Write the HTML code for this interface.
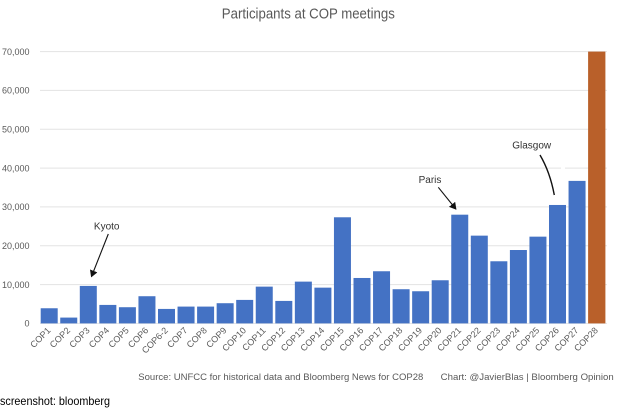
<!DOCTYPE html>
<html><head><meta charset="utf-8"><style>
html,body{margin:0;padding:0;background:#fff;}
svg{display:block;}
text{font-family:"Liberation Sans",Arial,sans-serif;}
</style></head><body>
<svg width="620" height="411" viewBox="0 0 620 411" xmlns="http://www.w3.org/2000/svg">
<rect width="620" height="411" fill="#fff"/>
<text x="308.3" y="18.5" font-size="15" fill="#595959" text-anchor="middle" textLength="173" lengthAdjust="spacingAndGlyphs">Participants at COP meetings</text>
<g stroke="#e3e3e3" stroke-width="1">
<line x1="40" y1="323.4" x2="607" y2="323.4"/>
<line x1="40" y1="284.57" x2="607" y2="284.57"/>
<line x1="40" y1="245.74" x2="607" y2="245.74"/>
<line x1="40" y1="206.91" x2="607" y2="206.91"/>
<line x1="40" y1="168.08" x2="607" y2="168.08"/>
<line x1="40" y1="129.25" x2="607" y2="129.25"/>
<line x1="40" y1="90.42" x2="607" y2="90.42"/>
<line x1="40" y1="51.59" x2="607" y2="51.59"/>
</g>
<rect x="561" y="166" width="4" height="4" fill="#fff"/>
<g font-size="9" fill="#595959" text-anchor="end">
<text x="29.5" y="326.6">0</text>
<text x="29.5" y="287.8">10,000</text>
<text x="29.5" y="248.9">20,000</text>
<text x="29.5" y="210.1">30,000</text>
<text x="29.5" y="171.3">40,000</text>
<text x="29.5" y="132.5">50,000</text>
<text x="29.5" y="93.6">60,000</text>
<text x="29.5" y="54.8">70,000</text>
</g>
<g fill="#4472c4">
<rect x="40.7" y="308.26" width="17" height="15.14"/>
<rect x="60.25" y="317.58" width="17" height="5.82"/>
<rect x="79.8" y="285.93" width="17" height="37.47"/>
<rect x="99.35" y="304.92" width="17" height="18.48"/>
<rect x="118.9" y="307.21" width="17" height="16.19"/>
<rect x="138.45" y="296.22" width="17" height="27.18"/>
<rect x="158.0" y="308.92" width="17" height="14.48"/>
<rect x="177.55" y="306.59" width="17" height="16.81"/>
<rect x="197.1" y="306.59" width="17" height="16.81"/>
<rect x="216.65" y="303.21" width="17" height="20.19"/>
<rect x="236.2" y="299.91" width="17" height="23.49"/>
<rect x="255.75" y="286.63" width="17" height="36.77"/>
<rect x="275.3" y="300.92" width="17" height="22.48"/>
<rect x="294.85" y="281.62" width="17" height="41.78"/>
<rect x="314.4" y="287.64" width="17" height="35.76"/>
<rect x="333.95" y="217.28" width="17" height="106.12"/>
<rect x="353.5" y="277.97" width="17" height="45.43"/>
<rect x="373.05" y="271.25" width="17" height="52.15"/>
<rect x="392.6" y="289.23" width="17" height="34.17"/>
<rect x="412.15" y="291.25" width="17" height="32.15"/>
<rect x="431.7" y="280.26" width="17" height="43.14"/>
<rect x="451.25" y="214.68" width="17" height="108.72"/>
<rect x="470.8" y="235.64" width="17" height="87.76"/>
<rect x="490.35" y="261.27" width="17" height="62.13"/>
<rect x="509.9" y="250.01" width="17" height="73.39"/>
<rect x="529.45" y="236.65" width="17" height="86.75"/>
<rect x="549.0" y="204.97" width="17" height="118.43"/>
<rect x="568.55" y="180.89" width="17" height="142.51"/>
</g>
<rect x="588.1" y="51.59" width="17.3" height="271.81" fill="#b9602a"/>
<g font-size="9" fill="#595959" text-anchor="end">
<text transform="translate(51.2,331) rotate(-45)">COP1</text>
<text transform="translate(70.75,331) rotate(-45)">COP2</text>
<text transform="translate(90.3,331) rotate(-45)">COP3</text>
<text transform="translate(109.85,331) rotate(-45)">COP4</text>
<text transform="translate(129.4,331) rotate(-45)">COP5</text>
<text transform="translate(148.95,331) rotate(-45)">COP6</text>
<text transform="translate(168.5,331) rotate(-45)">COP6-2</text>
<text transform="translate(188.05,331) rotate(-45)">COP7</text>
<text transform="translate(207.6,331) rotate(-45)">COP8</text>
<text transform="translate(227.15,331) rotate(-45)">COP9</text>
<text transform="translate(246.7,331) rotate(-45)">COP10</text>
<text transform="translate(266.25,331) rotate(-45)">COP11</text>
<text transform="translate(285.8,331) rotate(-45)">COP12</text>
<text transform="translate(305.35,331) rotate(-45)">COP13</text>
<text transform="translate(324.9,331) rotate(-45)">COP14</text>
<text transform="translate(344.45,331) rotate(-45)">COP15</text>
<text transform="translate(364.0,331) rotate(-45)">COP16</text>
<text transform="translate(383.55,331) rotate(-45)">COP17</text>
<text transform="translate(403.1,331) rotate(-45)">COP18</text>
<text transform="translate(422.65,331) rotate(-45)">COP19</text>
<text transform="translate(442.2,331) rotate(-45)">COP20</text>
<text transform="translate(461.75,331) rotate(-45)">COP21</text>
<text transform="translate(481.3,331) rotate(-45)">COP22</text>
<text transform="translate(500.85,331) rotate(-45)">COP23</text>
<text transform="translate(520.4,331) rotate(-45)">COP24</text>
<text transform="translate(539.95,331) rotate(-45)">COP25</text>
<text transform="translate(559.5,331) rotate(-45)">COP26</text>
<text transform="translate(579.05,331) rotate(-45)">COP27</text>
<text transform="translate(598.6,331) rotate(-45)">COP28</text>
</g>
<defs>
<marker id="ah" markerWidth="8" markerHeight="8" refX="6" refY="4" orient="auto" markerUnits="userSpaceOnUse">
<path d="M0,0 L7,4 L0,8 z" fill="#111"/>
</marker>
</defs>
<g font-size="10" fill="#333" text-anchor="middle">
<text x="106.7" y="229.5">Kyoto</text>
<text x="430" y="182.8">Paris</text>
<text x="531.7" y="148.5">Glasgow</text>
</g>
<g stroke="#111" stroke-width="1.1" fill="none">
<line x1="108.3" y1="234" x2="91.5" y2="276.5" marker-end="url(#ah)"/>
<line x1="438.3" y1="187.3" x2="455.8" y2="209" marker-end="url(#ah)"/>
<path d="M540,155 Q550,172 554.3,195" stroke-width="1.4"/>
</g>
<text x="138.3" y="380" font-size="9.5" fill="#595959" textLength="285" lengthAdjust="spacingAndGlyphs">Source: UNFCC for historical data and Bloomberg News for COP28</text>
<text x="440.7" y="380" font-size="9.5" fill="#595959" textLength="173" lengthAdjust="spacingAndGlyphs">Chart: @JavierBlas | Bloomberg Opinion</text>
<text x="0" y="405" font-size="12" fill="#000" textLength="110" lengthAdjust="spacingAndGlyphs">screenshot: bloomberg</text>
</svg>
</body></html>
